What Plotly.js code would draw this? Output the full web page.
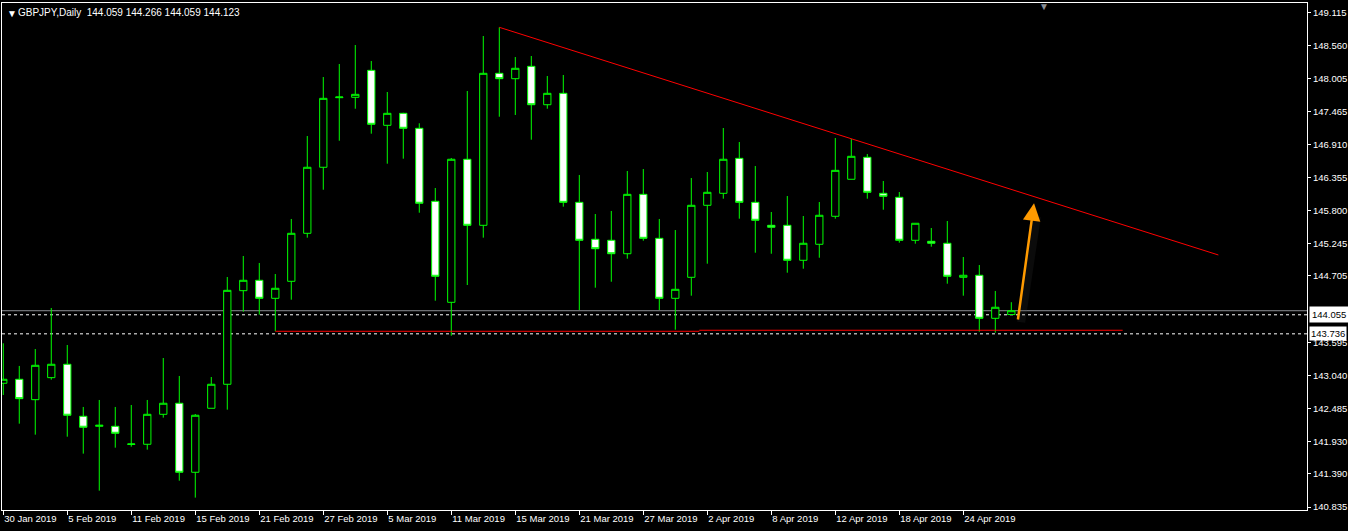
<!DOCTYPE html>
<html><head><meta charset="utf-8">
<script src="https://cdn.plot.ly/plotly-3.0.1.min.js"></script>
<style>html,body{margin:0;padding:0;background:#000;overflow:hidden}#chart{width:1348px;height:531px}</style>
</head><body><div id="chart"></div>
<script>
const dates = [
 '2019-01-30','2019-01-31','2019-02-01','2019-02-04','2019-02-05','2019-02-06','2019-02-07','2019-02-08',
 '2019-02-11','2019-02-12','2019-02-13','2019-02-14','2019-02-15','2019-02-18','2019-02-19','2019-02-20',
 '2019-02-21','2019-02-22','2019-02-25','2019-02-26','2019-02-27','2019-02-28','2019-03-01','2019-03-04',
 '2019-03-05','2019-03-06','2019-03-07','2019-03-08','2019-03-11','2019-03-12','2019-03-13','2019-03-14',
 '2019-03-15','2019-03-18','2019-03-19','2019-03-20','2019-03-21','2019-03-22','2019-03-25','2019-03-26',
 '2019-03-27','2019-03-28','2019-03-29','2019-04-01','2019-04-02','2019-04-03','2019-04-04','2019-04-05',
 '2019-04-08','2019-04-09','2019-04-10','2019-04-11','2019-04-12','2019-04-15','2019-04-16','2019-04-17',
 '2019-04-18','2019-04-19','2019-04-22','2019-04-23','2019-04-24','2019-04-25','2019-04-26','2019-04-29'
];
const openP = [
 142.908,142.975,142.633,143.002,143.226,142.355,142.187,142.187,
 141.883,141.886,142.388,142.573,141.417,142.489,142.891,144.459,
 144.633,144.331,144.616,145.420,146.526,147.692,147.698,148.150,
 147.229,147.430,147.179,145.956,144.264,146.660,145.554,148.100,
 148.010,148.217,147.574,147.765,145.939,145.320,145.303,145.078,
 146.073,145.336,144.331,144.683,145.889,146.090,146.676,145.939,
 145.554,145.554,144.968,145.236,145.705,146.325,146.693,146.090,
 146.023,145.303,145.286,145.253,144.683,144.717,143.996,144.059
];
const highP = [
 143.578,143.198,143.482,144.169,143.549,142.511,142.628,142.511,
 142.544,142.628,143.331,143.030,142.393,143.013,144.688,145.040,
 144.923,144.738,145.660,147.050,148.038,148.256,148.574,148.306,
 147.787,147.440,147.263,146.179,146.681,147.804,148.725,148.871,
 148.373,148.390,148.055,148.072,146.397,145.743,145.794,146.464,
 146.497,145.660,145.475,146.346,146.447,147.184,146.949,146.547,
 145.777,146.045,145.710,145.944,147.016,147.000,146.748,146.296,
 146.112,145.588,145.509,145.626,145.023,144.889,144.454,144.266
];
const lowP = [
 142.712,142.231,142.047,142.968,142.013,141.729,141.109,141.829,
 141.846,141.796,142.332,141.276,140.992,142.489,142.466,144.107,
 144.057,143.779,144.308,145.347,146.150,146.971,147.507,147.089,
 146.586,146.670,145.765,144.291,143.705,144.554,145.347,147.373,
 147.402,146.988,147.507,145.866,144.135,144.509,144.609,144.995,
 145.296,144.135,143.805,144.375,144.911,146.000,145.665,145.095,
 145.078,144.760,144.827,145.011,145.665,146.325,146.000,145.815,
 145.263,145.246,145.196,144.576,144.375,143.772,143.755,144.059
];
const closeP = [
 142.975,142.650,143.209,143.226,142.372,142.171,142.204,142.070,
 141.891,142.388,142.573,141.417,142.372,142.891,144.465,144.633,
 144.331,144.499,145.420,146.526,147.681,147.703,147.748,147.246,
 147.430,147.179,145.923,144.700,146.660,145.554,148.100,148.010,
 148.184,147.574,147.765,145.939,145.303,145.162,145.078,146.073,
 145.336,144.331,144.482,145.889,146.107,146.660,145.939,145.638,
 145.521,144.968,145.253,145.722,146.475,146.710,146.107,146.040,
 145.303,145.588,145.253,144.700,144.717,143.996,144.181,144.123
];
const tickDates = ['2019-01-30','2019-02-05','2019-02-11','2019-02-15','2019-02-21','2019-02-27','2019-03-05','2019-03-11',
 '2019-03-15','2019-03-21','2019-03-27','2019-04-02','2019-04-08','2019-04-12','2019-04-18','2019-04-24'];
const tickLabels = ['30 Jan 2019','5 Feb 2019','11 Feb 2019','15 Feb 2019','21 Feb 2019','27 Feb 2019','5 Mar 2019','11 Mar 2019',
 '15 Mar 2019','21 Mar 2019','27 Mar 2019','2 Apr 2019','8 Apr 2019','12 Apr 2019','18 Apr 2019','24 Apr 2019'];
const priceTicks = [149.115,148.560,148.005,147.465,146.910,146.355,145.800,145.245,144.705,143.595,143.040,142.485,141.930,141.390,140.835];
const priceTickLabels = ['149.115','148.560','148.005','147.465','146.910','146.355','145.800','145.245','144.705','143.595','143.040','142.485','141.930','141.390','140.835'];
const headerText = 'GBPJPY,Daily&nbsp;&nbsp;144.059 144.266 144.059 144.123';
const bidPrice = 144.123;
const levelPrices = [144.055, 143.736];
const levelLabels = ['144.055', '143.736'];

const FONT = 'Liberation Sans, Arial, sans-serif';

const trace = {
  type: 'candlestick',
  x: dates, open: openP, high: highP, low: lowP, close: closeP,
  increasing: {line: {color: '#00ff00', width: 1}, fillcolor: '#000000'},
  decreasing: {line: {color: '#00ff00', width: 1}, fillcolor: '#ffffff'},
  whiskerwidth: 0,
  hoverinfo: 'skip'
};

const shapes = [
  {type:'line', xref:'paper', x0:0, x1:1, yref:'y', y0:bidPrice, y1:bidPrice, line:{color:'#8c8f94', width:1}, layer:'below'},
  {type:'line', xref:'paper', x0:0, x1:1, yref:'y', y0:levelPrices[0], y1:levelPrices[0], line:{color:'#ffffff', width:1, dash:'3px,3px'}, layer:'below'},
  {type:'line', xref:'paper', x0:0, x1:1, yref:'y', y0:levelPrices[1], y1:levelPrices[1], line:{color:'#ffffff', width:1, dash:'3px,3px'}, layer:'below'},
  {type:'line', xref:'x', x0:17, x1:43.5, yref:'y', y0:143.779, y1:143.779, line:{color:'#ff0000', width:1}},
  {type:'line', xref:'x', x0:43.5, x1:69.96, yref:'y', y0:143.796, y1:143.796, line:{color:'#ff0000', width:1}},
  {type:'line', xref:'x', x0:31, x1:75.94, yref:'y', y0:148.871, y1:145.057, line:{color:'#ff0000', width:1}},
  {type:'line', xref:'x', x0:63.62, x1:64.6, yref:'y', y0:143.93, y1:145.7, line:{color:'rgba(60,60,60,0.18)', width:8}, layer:'below'}
];

const annotations = [
  {xref:'paper', yref:'paper', x:0, y:1, xanchor:'left', yanchor:'top', xshift:3, yshift:-3, text:'▼', showarrow:false, font:{family:FONT, size:10, color:'#ffffff'}},
  {xref:'paper', yref:'paper', x:0, y:1, xanchor:'left', yanchor:'top', xshift:14, yshift:-2, text:headerText, showarrow:false, font:{family:FONT, size:10, color:'#ffffff'}},
  {xref:'paper', yref:'y', x:1, y:levelPrices[0], xanchor:'left', yanchor:'middle', xshift:2, text:levelLabels[0], showarrow:false, bgcolor:'#ffffff', borderpad:2, font:{family:FONT, size:9.5, color:'#000000'}},
  {xref:'paper', yref:'y', x:1, y:levelPrices[1], xanchor:'left', yanchor:'middle', xshift:2, text:levelLabels[1], showarrow:false, bgcolor:'#ffffff', borderpad:1, font:{family:FONT, size:9.5, color:'#000000'}},
  {xref:'x', yref:'y', x:64.42, y:145.923, axref:'x', ayref:'y', ax:63.40, ay:143.951, text:'', showarrow:true, arrowhead:2, arrowsize:1.4, arrowwidth:2.5, arrowcolor:'#ff9a00'},
  {xref:'x', yref:'paper', x:65.04, y:1, xanchor:'center', yanchor:'top', yshift:4, text:'▼', showarrow:false, font:{family:FONT, size:10, color:'#8a8f96'}}
];

const layout = {
  width:1348, height:531,
  paper_bgcolor:'#000000', plot_bgcolor:'#000000',
  margin:{l:2, r:41, t:3, b:21, pad:0},
  showlegend:false,
  boxgap:0.35,
  font:{family:FONT, size:9.5, color:'#ffffff'},
  xaxis:{type:'category', range:[-0.08, 81.48], tickvals:tickDates, ticktext:tickLabels,
    ticks:'outside', ticklen:4, tickcolor:'#ffffff', tickwidth:1,
    ticklabelposition:'outside right',
    showline:true, linecolor:'#ffffff', linewidth:1, mirror:true,
    showgrid:false, zeroline:false, rangeslider:{visible:false}, fixedrange:true,
    tickfont:{family:FONT, size:9.5, color:'#ffffff'}},
  yaxis:{side:'right', range:[140.785, 149.278], tickvals:priceTicks, ticktext:priceTickLabels,
    ticks:'outside', ticklen:3, tickcolor:'#ffffff', tickwidth:1,
    showline:true, linecolor:'#ffffff', linewidth:1, mirror:true,
    showgrid:false, zeroline:false, fixedrange:true,
    tickfont:{family:FONT, size:9.5, color:'#ffffff'}},
  shapes: shapes,
  annotations: annotations
};

Plotly.newPlot('chart', [trace], layout, {displayModeBar:false, staticPlot:true});
</script>
</body></html>
